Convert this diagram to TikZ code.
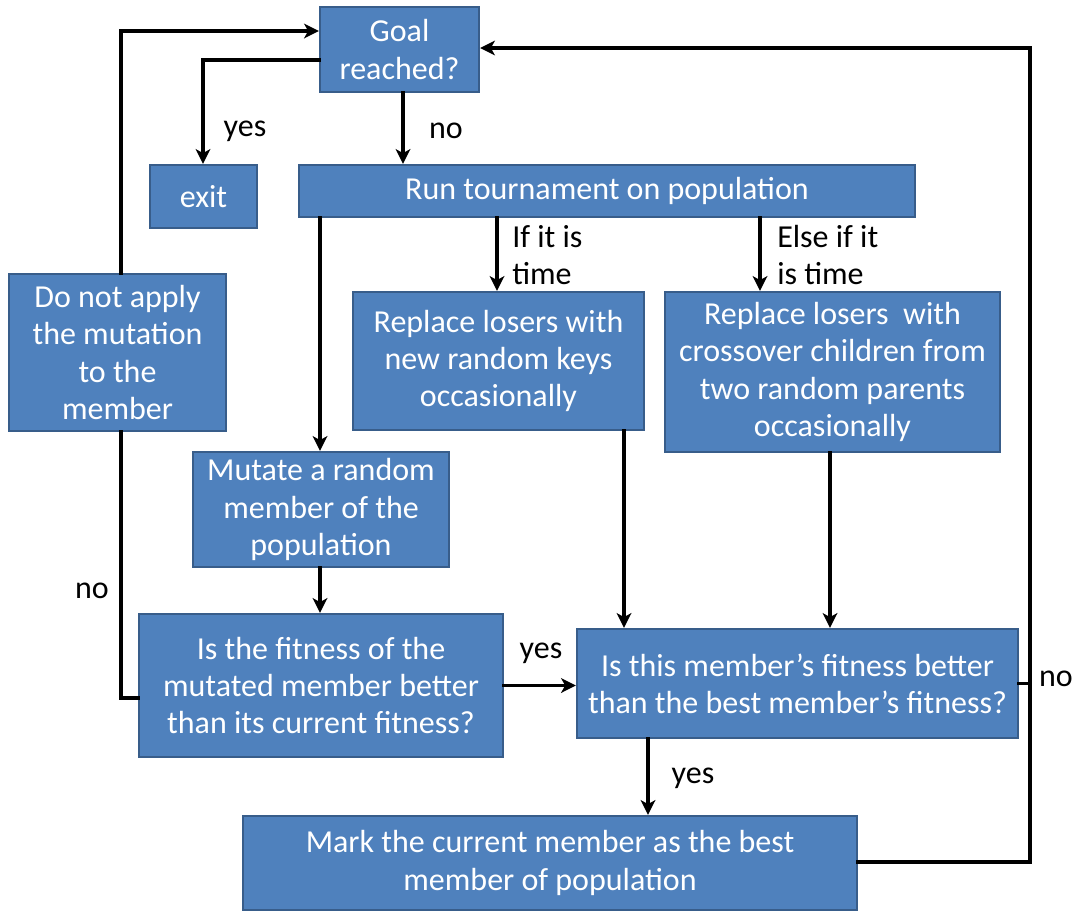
\documentclass[tikz,border=0pt]{standalone}
\usepackage{fontspec}
\setmainfont{Carlito}
\usetikzlibrary{arrows.meta}
\definecolor{boxfill}{HTML}{4F81BD}
\definecolor{boxline}{HTML}{385D8A}
\begin{document}
\begin{tikzpicture}[x=0.75pt,y=-0.75pt,
  blk/.style 2 args={draw=boxline,line width=1.8pt,fill=boxfill,text=white,align=center,
    inner sep=0pt,font=\fontsize{24}{28}\selectfont,
    minimum width={#1*0.75pt},minimum height={#2*0.75pt}},
  lbl/.style={font=\fontsize{24}{28}\selectfont,align=left,inner sep=0pt},
  conn/.style={line width=2.8pt,line cap=rect},
  arr/.style={conn,-{Stealth[length=11pt,width=11pt,inset=3pt]}}]
\useasboundingbox (0,0) rectangle (1078,911);
% boxes: centre, then width and height in pixels
\node[blk={159}{85}] (goal) at (399.5,49.5) {Goal\\reached?};
\node[blk={107}{63}] (exit) at (203.5,196.5) {exit};
\node[blk={616}{52}] (run) at (607,191) {Run tournament on population};
\node[blk={217}{157}] (skip) at (117.5,352.5) {Do not apply\\the mutation\\to the\\member};
\node[blk={291}{138}] (keys) at (498.5,361) {Replace losers with\\new random keys\\occasionally};
\node[blk={335}{160}] (cross) at (832.5,372) {Replace losers\ \ with\\crossover children from\\two random parents\\occasionally};
\node[blk={256}{115}] (mut) at (321,509.5) {Mutate a random\\member of the\\population};
\node[blk={364}{143}] (fitm) at (321,685.5) {Is the fitness of the\\mutated member better\\than its current fitness?};
\node[blk={441}{109}] (best) at (797.5,683.5) {Is this member’s fitness better\\than the best member’s fitness?};
\node[blk={614}{94}] (mark) at (550,863) {Mark the current member as the best\\member of population};
% joints of the connectors
\coordinate (gl) at (203,60);
\coordinate (tl) at (121,31);
\coordinate (tr) at (1030,48);
\coordinate (br) at (1030,862);
\coordinate (ml) at (121,698);
% connectors
\draw[arr] (goal.west |- gl) -- (gl) -- (exit.north -| gl);
\draw[arr] (goal.south -| 403,0) -- (run.north -| 403,0);
\draw[arr] (run.south -| 320,0) -- (mut.north -| 320,0);
\draw[arr] (run.south -| 497,0) -- (keys.north -| 497,0);
\draw[arr] (run.south -| 760,0) -- (cross.north -| 760,0);
\draw[arr] (mut.south -| 320,0) -- (fitm.north -| 320,0);
\draw[arr] (fitm.east) -- (best.west |- fitm.east);
\draw[conn] (fitm.west |- ml) -- (ml) -- (skip.south -| ml);
\draw[arr] (skip.north -| tl) -- (tl) -- (goal.west |- tl);
\draw[arr] (keys.south -| 624,0) -- (best.north -| 624,0);
\draw[arr] (cross.south -| 830,0) -- (best.north -| 830,0);
\draw[arr] (best.south -| 648,0) -- (mark.north -| 648,0);
\draw[conn] (best.east) -- (best.east -| tr);
\draw[arr] (mark.east |- br) -- (br) -- (tr) -- (goal.east |- tr);
% labels
\node[lbl] (lyes1) at (245,131) {yes};
\node[lbl] (lno1) at (446,131) {no};
\node[lbl,anchor=north west] (ltime1) at (512,225) {If it is\\time};
\node[lbl,anchor=north west] (ltime2) at (777,225) {Else if it\\is time};
\node[lbl] (lyes2) at (541,653) {yes};
\node[lbl] (lno2) at (92,591) {no};
\node[lbl] (lno3) at (1056,679) {no};
\node[lbl] (lyes3) at (693,778) {yes};
\end{tikzpicture}
\end{document}
